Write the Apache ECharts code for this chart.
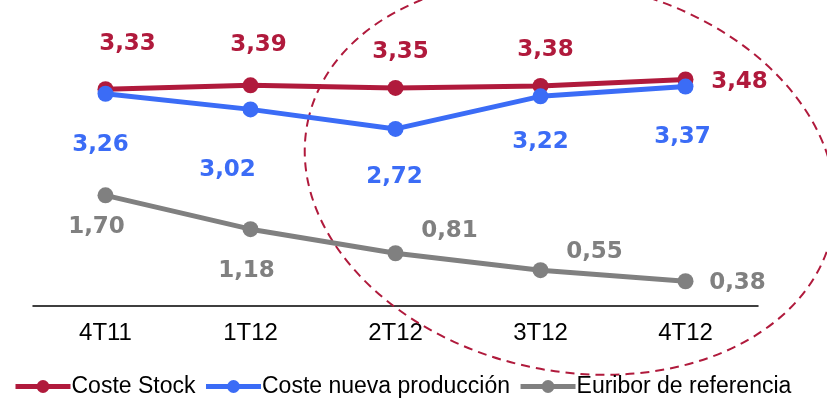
<!DOCTYPE html>
<html>
<head>
<meta charset="utf-8">
<script src="https://cdn.jsdelivr.net/npm/echarts@6/dist/echarts.min.js"></script>
<style>
  html, body { margin: 0; padding: 0; background: #fff; }
  #chart { width: 827px; height: 398px; }
</style>
</head>
<body>
<div id="chart"></div>
<script>
// Quarters on the horizontal axis
const quarters = ['4T11', '1T12', '2T12', '3T12', '4T12'];
// Series values (%)
const costeStock = [3.33, 3.39, 3.35, 3.38, 3.48];
const costeNueva = [3.26, 3.02, 2.72, 3.22, 3.37];
const euribor = [1.70, 1.18, 0.81, 0.55, 0.38];
const seriesNames = ['Coste Stock', 'Coste nueva producción', 'Euribor de referencia'];

// Label placement around each point (pixels from the marker centre)
const stockOffsets = [[22, -45], [8, -40], [5, -36], [5, -36], [54, 3]];
const nuevaOffsets = [[-5, 51], [-23, 61], [-1, 48], [0, 46], [-3, 50]];
const euriborOffsets = [[-9, 32], [-4, 42], [54, -22], [54, -18], [52, 2]];

const RED = '#B01A3C';
const BLUE = '#3B6CF6';
const GREY = '#808080';

const fmt = v => v.toFixed(2).replace('.', ',');

function buildSeries(name, values, color, offsets) {
  return {
    name: name,
    type: 'line',
    data: values.map((v, i) => ({
      value: v,
      label: { offset: offsets[i] }
    })),
    symbol: 'circle',
    symbolSize: 16,
    lineStyle: { color: color, width: 5 },
    itemStyle: { color: color },
    z: 3,
    label: {
      show: true,
      position: 'inside',
      align: 'center',
      verticalAlign: 'middle',
      formatter: p => fmt(p.value),
      color: color,
      fontFamily: 'DejaVu Sans',
      fontWeight: 'bold',
      fontSize: 23
    },
    emphasis: { disabled: true },
    animation: false
  };
}

const chart = echarts.init(document.getElementById('chart'), null, { renderer: 'canvas' });

chart.setOption({
  animation: false,
  grid: { left: 33, right: 69, top: 0, bottom: 92 },
  legend: {
    data: seriesNames,
    left: 13,
    top: 375,
    padding: 0,
    itemWidth: 55,
    itemHeight: 16,
    itemGap: 8,
    lineStyle: { width: 5 },
    textStyle: { fontFamily: 'Liberation Sans', fontSize: 23, color: '#000', padding: [0, 0, 0, -4] }
  },
  xAxis: {
    type: 'category',
    data: quarters,
    boundaryGap: true,
    axisLine: { lineStyle: { color: '#000', width: 1.5 } },
    axisTick: { show: false },
    axisLabel: {
      margin: 15,
      fontFamily: 'Liberation Sans',
      fontSize: 24,
      color: '#000'
    }
  },
  yAxis: {
    type: 'value',
    min: 0,
    max: 4.7,
    show: false,
    splitLine: { show: false }
  },
  series: [
    buildSeries(seriesNames[0], costeStock, RED, stockOffsets),
    buildSeries(seriesNames[1], costeNueva, BLUE, nuevaOffsets),
    buildSeries(seriesNames[2], euribor, GREY, euriborOffsets)
  ],
  graphic: [{
    type: 'ellipse',
    x: 570,
    y: 177,
    rotation: -12 * Math.PI / 180,
    shape: { cx: 0, cy: 0, rx: 268, ry: 194 },
    style: { fill: null, stroke: RED, lineWidth: 2, lineDash: [9, 6] },
    silent: true,
    z: 1
  }]
});
</script>
</body>
</html>
